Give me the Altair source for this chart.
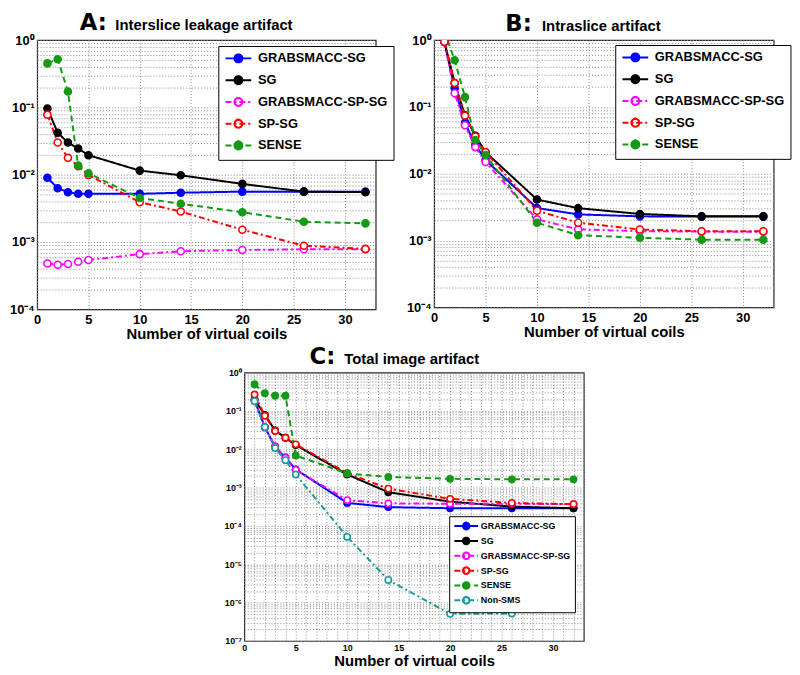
import math
import altair as alt
import pandas as pd

# ---------------- data ----------------
X = [1, 2, 3, 4, 5, 10, 14, 20, 26, 32]
X_NONSMS = [1, 2, 3, 4, 5, 10, 14, 20, 26]
SERIES = ["GRABSMACC-SG", "SG", "GRABSMACC-SP-SG", "SP-SG", "SENSE"]
SERIES_C = SERIES + ["Non-SMS"]

# Panel A: interslice leakage artifact
A_GSG = [9.0e-3, 6.3e-3, 5.5e-3, 5.2e-3, 5.2e-3, 5.2e-3, 5.4e-3, 5.6e-3, 5.6e-3, 5.6e-3]
A_SG = [0.096, 0.042, 0.030, 0.0245, 0.0195, 0.0115, 0.0098, 0.0073, 5.6e-3, 5.5e-3]
A_GSPSG = [4.8e-4, 4.6e-4, 4.7e-4, 5.1e-4, 5.4e-4, 6.6e-4, 7.3e-4, 7.6e-4, 7.8e-4, 7.8e-4]
A_SPSG = [0.078, 0.030, 0.0178, 0.0134, 0.0099, 3.9e-3, 2.84e-3, 1.52e-3, 8.8e-4, 7.9e-4]
A_SENSE = [0.45, 0.52, 0.172, 0.0137, 0.0105, 4.5e-3, 3.7e-3, 2.77e-3, 2.0e-3, 1.89e-3]

# Panel B: intraslice artifact
B_GSG = [0.94, 0.19, 0.058, 0.027, 0.016, 3.06e-3, 2.46e-3, 2.3e-3, 2.28e-3, 2.28e-3]
B_SG = [0.94, 0.227, 0.075, 0.037, 0.021, 4.1e-3, 3.05e-3, 2.5e-3, 2.3e-3, 2.3e-3]
B_GSPSG = [0.94, 0.16, 0.053, 0.025, 0.015, 2.07e-3, 1.47e-3, 1.38e-3, 1.36e-3, 1.35e-3]
B_SPSG = [0.94, 0.227, 0.074, 0.036, 0.021, 2.8e-3, 1.85e-3, 1.46e-3, 1.38e-3, 1.38e-3]
B_SENSE = [1.35, 0.50, 0.14, 0.032, 0.019, 1.85e-3, 1.2e-3, 1.1e-3, 1.03e-3, 1.03e-3]

# Panel C: total image artifact
C_GSG = [0.19, 0.038, 0.0115, 6.1e-3, 3.0e-3, 4.0e-4, 3.1e-4, 2.9e-4, 2.9e-4, 2.9e-4]
C_SG = [0.20, 0.079, 0.031, 0.020, 0.0129, 2.2e-3, 7.6e-4, 4.3e-4, 3.2e-4, 2.9e-4]
C_GSPSG = [0.19, 0.037, 0.012, 6.0e-3, 2.9e-3, 4.7e-4, 3.9e-4, 3.8e-4, 3.8e-4, 3.7e-4]
C_SPSG = [0.27, 0.075, 0.030, 0.020, 0.0135, 2.4e-3, 9.4e-4, 5.1e-4, 4.0e-4, 3.7e-4]
C_SENSE = [0.50, 0.29, 0.25, 0.25, 6.9e-3, 2.35e-3, 1.9e-3, 1.7e-3, 1.65e-3, 1.65e-3]
C_NONSMS = [0.18, 0.038, 0.0108, 5.2e-3, 2.2e-3, 5.2e-5, 3.9e-6, 5.1e-7, 5.2e-7]

COLORS = ["#0000ff", "#000000", "#ff00ff", "#ff0000", "#159a15", "#1a9a9a"]
FILLS = ["#0000ff", "#000000", "white", "white", "#159a15", "white"]
DASHES = [[1, 0], [1, 0], [6, 3, 2, 3], [6, 3, 2, 3], [6, 4], [6, 3, 2, 3]]

FONT = "Liberation Sans"
SUP = {"0": "⁰", "1": "¹", "2": "²", "3": "³", "4": "⁴", "5": "⁵",
       "6": "⁶", "7": "⁷", "8": "⁸", "9": "⁹", "-": "⁻"}


def long_df(series, xs_list, ys_list):
    rows = []
    for s, xs, ys in zip(series, xs_list, ys_list):
        for xv, yv in zip(xs, ys):
            rows.append({"x": xv, "y": yv, "series": s})
    return pd.DataFrame(rows)


def y_values(kmin):
    vals = []
    for k in range(kmin, 0):
        for m in range(1, 10):
            vals.append(float(f"{m}e{k}"))
    vals.append(1.0)
    return vals


def y_label_expr(kmin):
    parts = []
    for k in range(kmin, 1):
        v = 10.0 ** k
        lab = "10" + "".join(SUP[c] for c in str(k))
        parts.append(f"abs(datum.value - {v!r}) < {v * 1e-6!r} ? '{lab}'")
    return " : ".join(parts) + " : ''"


def legend_path(r, cx=1.5, n=16, copies=6):
    # line segment plus a small polygonal circle, traced several times with
    # shifted start points so that a dash pattern still shows a whole ring
    p = "M-1,0L4,0"
    for c in range(copies):
        off = 2 * math.pi * c / copies + 0.37 * c
        pts = [(cx + r * math.cos(off + 2 * math.pi * i / n),
                r * math.sin(off + 2 * math.pi * i / n)) for i in range(n + 1)]
        p += "M" + "L".join(f"{x:.3f},{y:.3f}" for x, y in pts)
    return p


def panel(df, series, kmin, letter, title, lx, ly, tx_letter, tx_title, ty,
          big, x_minor, w, h):
    n = len(series)
    lab_size = 13 if big else 9
    grid = dict(grid=True, gridDash=[1, 2], gridColor="#8a8a8a", gridWidth=1,
                ticks=False, domain=False, labelFont=FONT, labelFontWeight="bold",
                labelFontSize=lab_size, labelFlush=False, labelOverlap=False,
                labelColor="black")
    if x_minor:
        xaxis = alt.Axis(values=list(range(0, 34)),
                         labelExpr="datum.value % 5 === 0 ? toString(datum.value) : ''",
                         title="Number of virtual coils", titleFont=FONT,
                         titleFontSize=15, titleFontWeight="bold", titlePadding=1,
                         labelPadding=3, titleColor="black", **grid)
    else:
        xaxis = alt.Axis(values=[0, 5, 10, 15, 20, 25, 30],
                         title="Number of virtual coils", titleFont=FONT,
                         titleFontSize=15, titleFontWeight="bold", titlePadding=0,
                         labelPadding=4, titleColor="black", **grid)
    yaxis = alt.Axis(values=y_values(kmin), labelExpr=y_label_expr(kmin),
                     title=None, labelPadding=3, **grid)

    if big:
        u = 5.2
        leg_font, leg_off, leg_row, leg_pad = 13, 21, 5, 6
        r = 0.77
    else:
        u = 4.8
        leg_font, leg_off, leg_row, leg_pad = 9, 16, -1, 4
        r = 0.69
    legend = alt.Legend(title=None, orient="none", legendX=lx, legendY=ly,
                        symbolType=legend_path(r), symbolSize=(2 * u) ** 2,
                        symbolStrokeWidth=2, labelFont=FONT,
                        labelFontWeight="bold", labelFontSize=leg_font,
                        labelOffset=leg_off, rowPadding=leg_row,
                        padding=leg_pad, fillColor="white",
                        strokeColor="black", labelLimit=400,
                        labelColor="black")

    color = alt.Color("series:N", scale=alt.Scale(domain=series, range=COLORS[:n]),
                      legend=legend)
    dash = alt.StrokeDash("series:N",
                          scale=alt.Scale(domain=series, range=DASHES[:n]),
                          legend=legend)
    fill = alt.Fill("series:N", scale=alt.Scale(domain=series, range=FILLS[:n]),
                    legend=legend)

    base = alt.Chart(df).encode(
        x=alt.X("x:Q", scale=alt.Scale(domain=[0, 33], nice=False), axis=xaxis),
        y=alt.Y("y:Q", scale=alt.Scale(type="log", domain=[10.0 ** kmin, 1],
                                       nice=False), axis=yaxis),
    )
    lines = base.mark_line(strokeWidth=2, clip=True).encode(
        color=color, strokeDash=dash)
    pts = base.mark_point(filled=False, size=50 if big else 40, strokeWidth=1.6,
                          opacity=1, clip=True).encode(color=color, fill=fill)

    t1 = alt.Chart(pd.DataFrame({"t": [letter]})).mark_text(
        align="left", baseline="top", font="DejaVu Sans",
        fontWeight="bold", fontSize=23, color="black").encode(
        text="t:N", x=alt.value(tx_letter), y=alt.value(ty - 18))
    t2 = alt.Chart(pd.DataFrame({"t": [title]})).mark_text(
        align="left", baseline="top", font=FONT,
        fontWeight="bold", fontSize=15, color="black").encode(
        text="t:N", x=alt.value(tx_title), y=alt.value(ty - 12))

    return alt.layer(lines, pts, t1, t2).properties(width=w, height=h)


dfA = long_df(SERIES, [X] * 5, [A_GSG, A_SG, A_GSPSG, A_SPSG, A_SENSE])
dfB = long_df(SERIES, [X] * 5, [B_GSG, B_SG, B_GSPSG, B_SPSG, B_SENSE])
dfC = long_df(SERIES_C, [X] * 5 + [X_NONSMS],
              [C_GSG, C_SG, C_GSPSG, C_SPSG, C_SENSE, C_NONSMS])

pA = panel(dfA, SERIES, -4, "A:", "Interslice leakage artifact", 183, 6,
           43, 79, -10, True, False, 342, 272)
pB = panel(dfB, SERIES, -4, "B:", "Intraslice artifact", 183, 5,
           72, 109, -9, True, False, 343, 270)
pC = panel(dfC, SERIES_C, -7, "C:", "Total image artifact", 207, 145,
           66, 101, -9, False, True, 343, 271)

top = alt.hconcat(pA, pB, spacing=10).resolve_scale(
    color="independent", strokeDash="independent", fill="independent")
chart = alt.vconcat(top, pC, spacing=3, center=True, padding=0).resolve_scale(
    color="independent", strokeDash="independent", fill="independent"
).configure_view(stroke="#222222", strokeWidth=1.2)

chart.save("out.html", embed_options={"renderer": "svg", "actions": False})
